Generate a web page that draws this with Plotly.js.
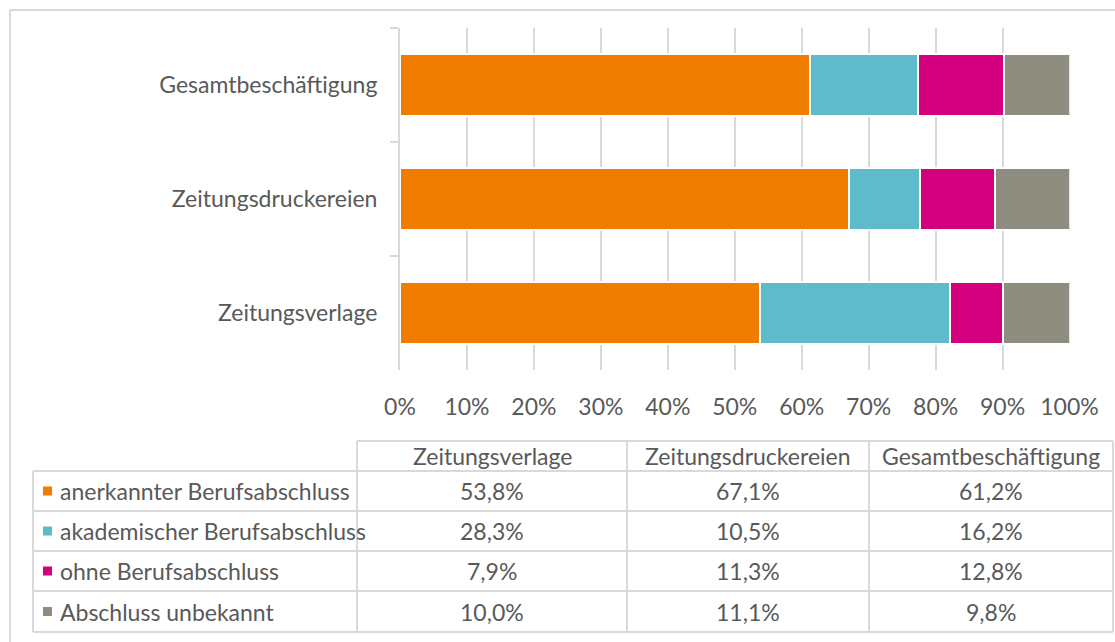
<!DOCTYPE html>
<html><head><meta charset="utf-8">
<script src="https://cdn.plot.ly/plotly-3.0.1.min.js"></script>
<style>body{margin:0;background:#fff}#chart{width:1115px;height:642px}</style>
</head><body><div id="chart"></div>
<script>
const categories = ['Zeitungsverlage', 'Zeitungsdruckereien', 'Gesamtbeschäftigung'];
const seriesNames = ['anerkannter Berufsabschluss', 'akademischer Berufsabschluss', 'ohne Berufsabschluss', 'Abschluss unbekannt'];
const anerkannt = [53.8, 67.1, 61.2];
const akademisch = [28.3, 10.5, 16.2];
const ohne = [7.9, 11.3, 12.8];
const unbekannt = [10.0, 11.1, 9.8];
const xTickVals = [0, 10, 20, 30, 40, 50, 60, 70, 80, 90, 100];
const xTickText = ['0%', '10%', '20%', '30%', '40%', '50%', '60%', '70%', '80%', '90%', '100%'];
const colors = ['#F07D00', '#5FBBC9', '#D5007E', '#8F8D80'];

const seriesValues = [anerkannt, akademisch, ohne, unbekannt];
const W = 1115, H = 642;
const FONT = 'Lato, "Open Sans", sans-serif';
const FS = 23;
const TXT = '#595959';
const LINE = '#d9d9d9';
const px = x => x / W;
const py = y => 1 - y / H;
const fmt = v => v.toFixed(1).replace('.', ',') + '%';

const traces = seriesValues.map((vals, i) => ({
  type: 'bar', orientation: 'h', name: seriesNames[i],
  x: vals, y: categories,
  marker: {color: colors[i], line: {color: '#ffffff', width: 2}},
  hoverinfo: 'x+y+name'
}));

// table geometry (pixels)
const colX = [33, 357, 627, 869, 1113];
const rowY = [441, 471, 511, 551, 591, 632];

const shapes = [];
const annotations = [];
const lineShape = (x0, y0, x1, y1) => ({type: 'line', xref: 'paper', yref: 'paper',
  x0: px(x0), y0: py(y0), x1: px(x1), y1: py(y1), line: {color: LINE, width: 2}});

// outer chart border (top + left visible)
shapes.push(lineShape(10, 10, W + 5, 10));
shapes.push(lineShape(10, 10, 10, H + 5));

// table grid
shapes.push(lineShape(colX[1], rowY[0], colX[colX.length - 1], rowY[0]));
for (let r = 1; r < rowY.length; r++) shapes.push(lineShape(colX[0], rowY[r], colX[colX.length - 1], rowY[r]));
shapes.push(lineShape(colX[0], rowY[1], colX[0], rowY[rowY.length - 1]));
for (let c = 1; c < colX.length; c++) shapes.push(lineShape(colX[c], rowY[0], colX[c], rowY[rowY.length - 1]));

categories.forEach((cat, c) => {
  annotations.push({xref: 'paper', yref: 'paper', x: px((colX[c + 1] + colX[c + 2]) / 2), y: py((rowY[0] + rowY[1]) / 2),
    text: cat, showarrow: false, xanchor: 'center', yanchor: 'middle', font: {family: FONT, size: FS, color: TXT}});
});
seriesNames.forEach((name, r) => {
  const yc = (rowY[r + 1] + rowY[r + 2]) / 2;
  shapes.push({type: 'rect', xref: 'paper', yref: 'paper', x0: px(43), x1: px(52), y0: py(yc - 4.5), y1: py(yc + 4.5),
    fillcolor: colors[r], line: {width: 0}});
  annotations.push({xref: 'paper', yref: 'paper', x: px(58), y: py(yc), text: name, showarrow: false,
    xanchor: 'left', yanchor: 'middle', font: {family: FONT, size: FS, color: TXT}});
  seriesValues[r].forEach((v, c) => {
    annotations.push({xref: 'paper', yref: 'paper', x: px((colX[c + 1] + colX[c + 2]) / 2), y: py(yc),
      text: fmt(v), showarrow: false, xanchor: 'center', yanchor: 'middle', font: {family: FONT, size: FS, color: TXT}});
  });
});

const layout = {
  width: W, height: H,
  margin: {l: 0, r: 0, t: 0, b: 0},
  paper_bgcolor: '#ffffff', plot_bgcolor: '#ffffff',
  barmode: 'stack', bargap: 0.45, showlegend: false,
  font: {family: FONT, color: TXT, size: FS},
  xaxis: {
    domain: [px(400), px(1069.5)], range: [0, 100],
    tickvals: xTickVals, ticktext: xTickText,
    showgrid: true, gridcolor: LINE, gridwidth: 2,
    zeroline: false, showline: false, ticks: '',
    tickfont: {family: FONT, size: FS, color: TXT}, ticklabelstandoff: 21,
    fixedrange: true
  },
  yaxis: {
    domain: [py(370), py(28)], type: 'category', categoryorder: 'array', categoryarray: categories,
    range: [-0.5, 2.5],
    showline: true, linecolor: LINE, linewidth: 2,
    ticks: 'outside', tickson: 'boundaries', ticklen: 8, tickcolor: LINE, tickwidth: 2,
    showgrid: false, zeroline: false,
    tickfont: {family: FONT, size: FS, color: TXT}, ticklabelstandoff: 16,
    fixedrange: true
  },
  shapes: shapes,
  annotations: annotations
};

Plotly.newPlot('chart', traces, layout, {displayModeBar: false, responsive: false});
</script>
</body></html>
